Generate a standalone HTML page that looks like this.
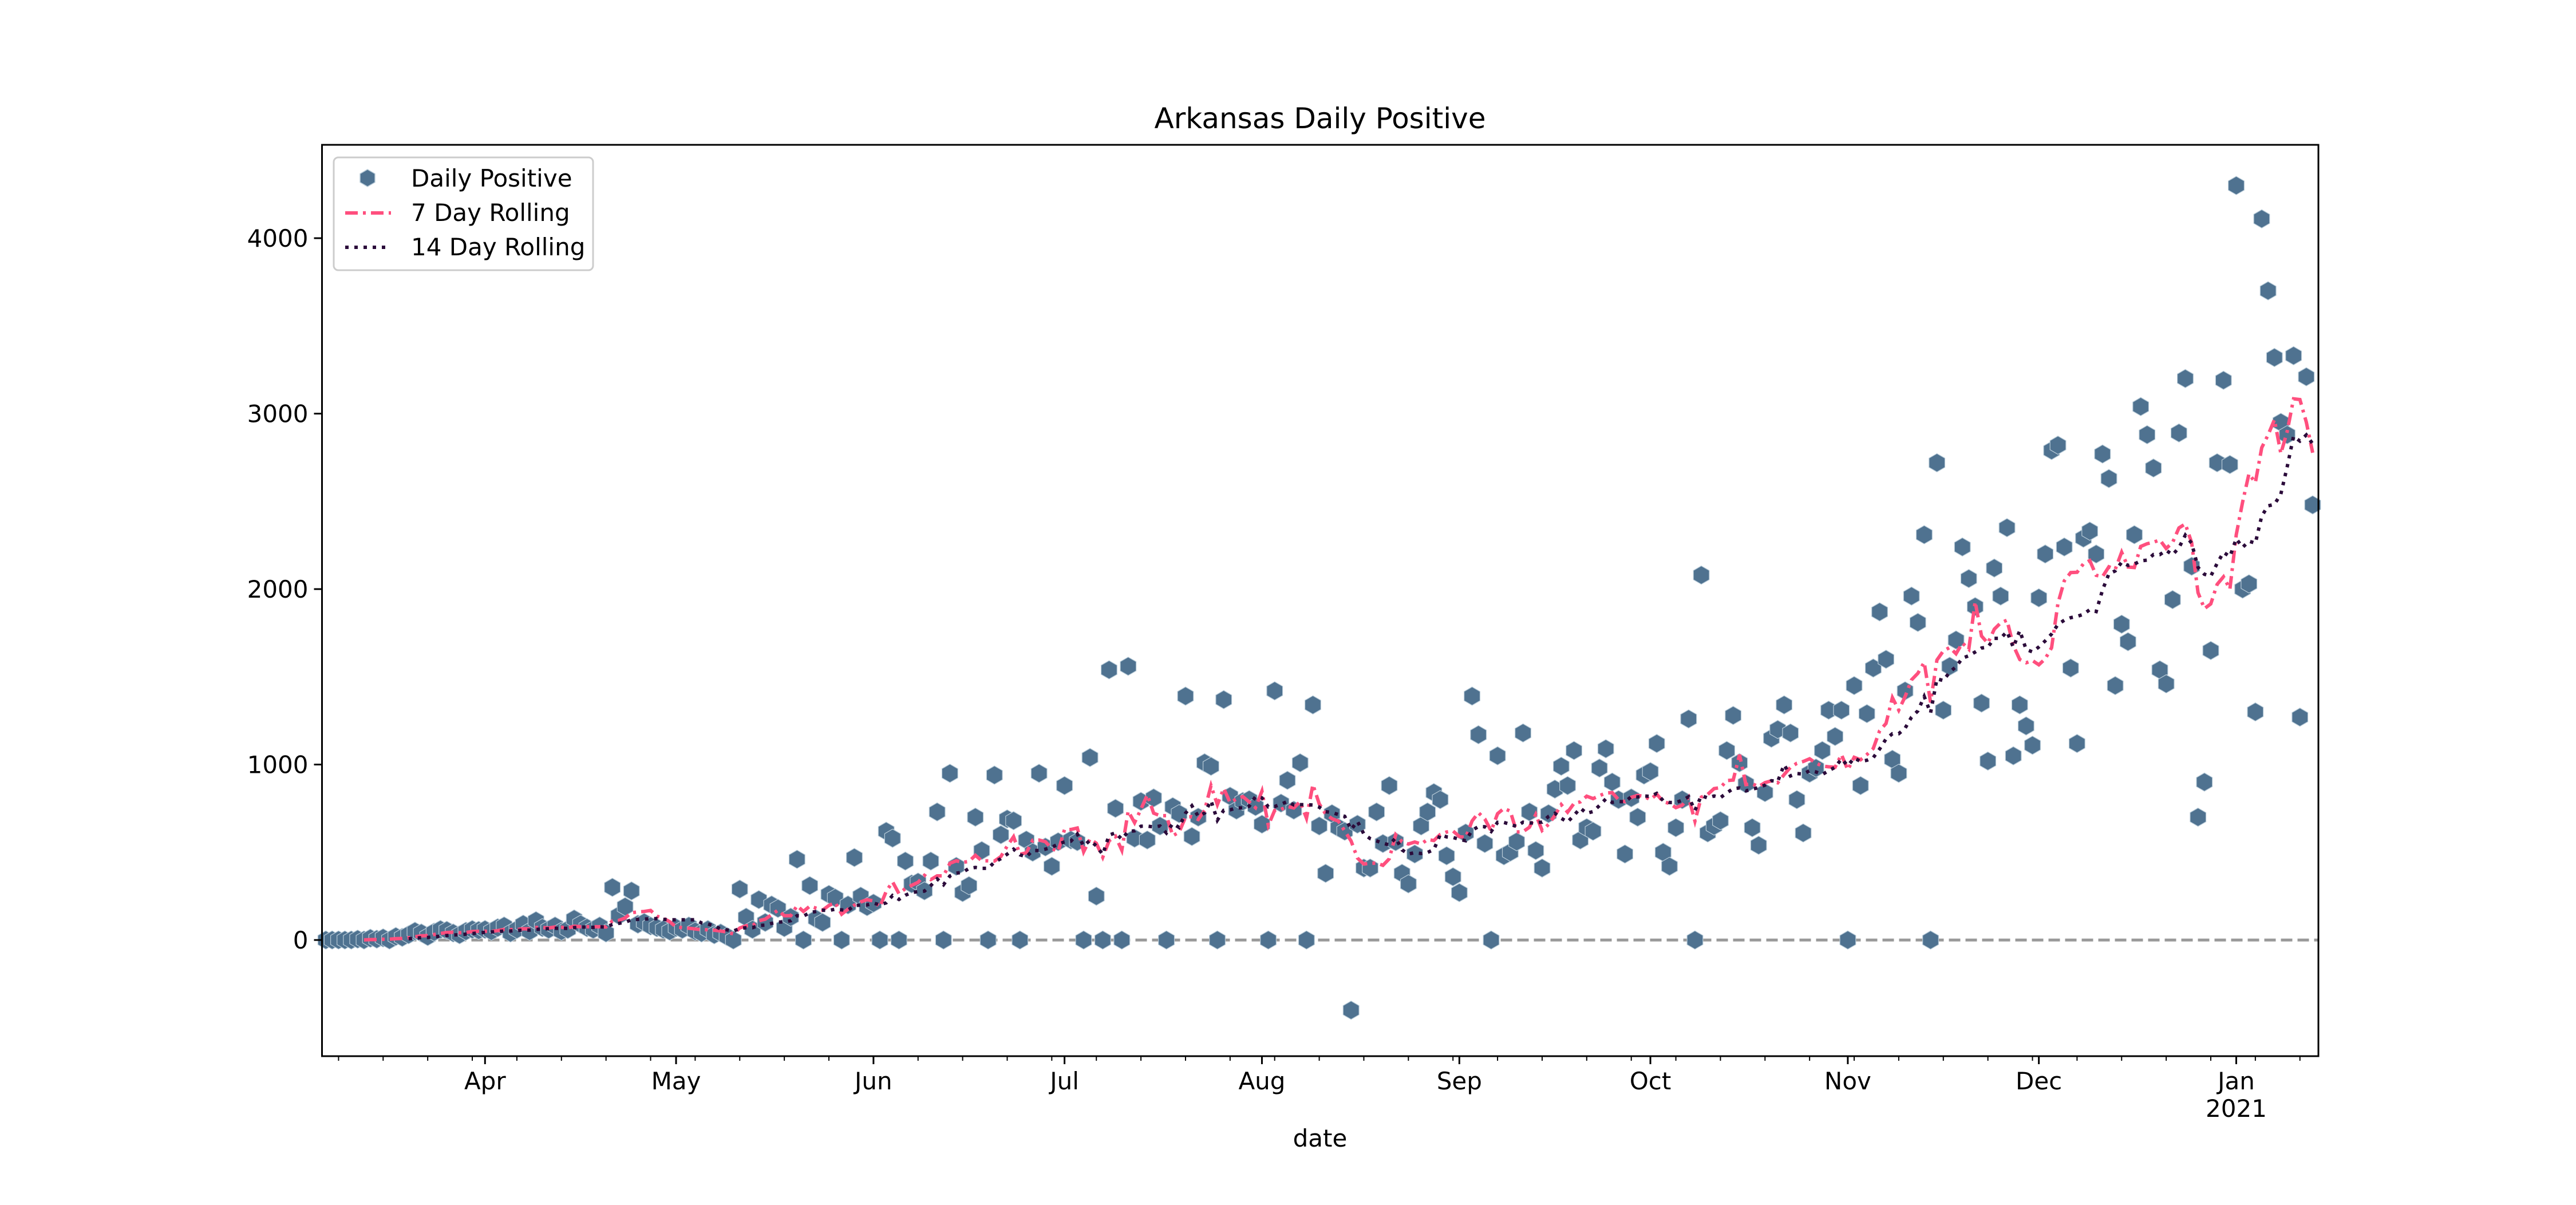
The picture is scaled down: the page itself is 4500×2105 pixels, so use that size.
<!DOCTYPE html>
<html><head><meta charset="utf-8"><style>
body{margin:0;background:#fff}
svg text{font-family:"DejaVu Sans","Liberation Sans",sans-serif}
</style></head><body>
<svg id="chart" width="4500" height="2100" viewBox="0 0 4500 2100" xmlns="http://www.w3.org/2000/svg">
<rect width="4500" height="2100" fill="#fff"/>
<text x="2306" y="224" font-size="50" text-anchor="middle">Arkansas Daily Positive</text>
<g id="marks"></g>
<rect x="562.5" y="253" width="3487.5" height="1592" fill="none" stroke="#000" stroke-width="3"/>
<g id="axes"></g>
<text x="2306" y="2003" font-size="42" text-anchor="middle">date</text>
<g transform="translate(0,6)">
<rect x="583" y="269" width="453" height="197" fill="#fff" fill-opacity="0.8" stroke="#ccc" stroke-width="3" rx="8"/>
<g><polygon points="642,290 655,297.5 655,312.5 642,320 629,312.5 629,297.5" fill="#4f7290" stroke="#b8cbd8" stroke-width="1.5"/><text x="718" y="320" font-size="42">Daily Positive</text></g>
<g><line x1="603" y1="366" x2="683" y2="366" stroke="#ff4f7e" stroke-width="6" stroke-dasharray="22 9 5 9"/><text x="718" y="380" font-size="42">7 Day Rolling</text></g>
<g><line x1="603" y1="426" x2="683" y2="426" stroke="#2b0b3a" stroke-width="6" stroke-dasharray="6 10"/><text x="718" y="440" font-size="42">14 Day Rolling</text></g>
</g>
</svg>
<script>
const startDate = "2020-03-07";
const mar = [0,0,0,0,0,5,0,10,5,12,0,20,15,30,50,40,20,45,60,55,40,30,50,60,55];
const apr = [60,50,70,80,40,60,90,50,110,70,60,80,50,60,120,90,70,60,80,40,300,140,190,280,90,100,80,70,60,50];
const may = [70,60,80,50,40,60,30,40,20,0,290,130,60,230,100,200,180,70,130,460,0,310,120,100,260,240,0,200,470,250,190];
const jun = [210,0,620,580,0,450,320,330,280,450,730,0,950,420,270,310,700,510,0,940,600,690,680,0,570,500,950,530,420,560];
const jul = [880,570,560,0,1040,250,0,1540,750,0,1560,580,790,570,810,650,0,760,720,1390,590,700,1010,990,0,1370,820,740,790,800,760];
const aug = [660,0,1420,780,910,740,1010,0,1340,650,380,720,640,620,-400,660,410,410,730,550,880,560,380,320,490,650,730,840,800,480,360];
const sep = [270,610,1390,1170,550,0,1050,480,500,560,1180,730,510,410,720,860,990,880,1080,570,640,620,980,1090,900,800,490,810,700,940];
const oct = [960,1120,500,420,640,800,1260,0,2080,610,650,680,1080,1280,1010,890,640,540,840,1150,1200,1340,1180,800,610,950,980,1080,1310,1160,1310];
const nov = [0,1450,880,1290,1550,1870,1600,1030,950,1420,1960,1810,2310,0,2720,1310,1560,1710,2240,2060,1900,1350,1020,2120,1960,2350,1050,1340,1220,1110];
const dec = [1950,2200,2790,2820,2240,1550,1120,2290,2330,2200,2770,2630,1450,1800,1700,2310,3040,2880,2690,1540,1460,1940,2890,3200,2130,700,900,1650,2720,3190,2710];
const jan = [4300,2000,2030,1300,4110,3700,3320,2950,2880,3330,1270,3210,2480];
const yTicks = [0,1000,2000,3000,4000];
const monthLabels = ["Apr","May","Jun","Jul","Aug","Sep","Oct","Nov","Dec","Jan"];
const monthDays = [25,55,86,116,147,178,208,239,269,300];

const daily = [].concat(mar,apr,may,jun,jul,aug,sep,oct,nov,dec,jan);
const NS="http://www.w3.org/2000/svg";
const L=562.5,R=4050,T=253,B=1845;
const xmin=-0.6,xmax=312.9,ymin=-662,ymax=4532;
const xs=d=>L+(d-xmin)/(xmax-xmin)*(R-L);
const ys=v=>B-(v-ymin)/(ymax-ymin)*(B-T);
function mk(tag,attrs,parent){const e=document.createElementNS(NS,tag);for(const k in attrs)e.setAttribute(k,attrs[k]);parent.appendChild(e);return e;}
const marks=document.getElementById('marks'), axes=document.getElementById('axes');

const zl=mk('line',{x1:L,x2:R,y1:ys(0),y2:ys(0),stroke:'#999','stroke-width':5,'stroke-dasharray':'20 9'},marks);



const g=mk('g',{},marks);


daily.forEach((v,i)=>{
  const cx=xs(i),cy=ys(v),r=16;
  const p=[];for(let k=0;k<6;k++){const a=Math.PI/3*k-Math.PI/2;p.push((cx+r*Math.cos(a)).toFixed(1)+','+(cy+r*Math.sin(a)).toFixed(1));}
  const h=mk('polygon',{points:p.join(' '),fill:'#4f7290',stroke:'#b8cbd8','stroke-width':1.2},g);
  
  
});
function roll(w){const out=[];for(let i=w-1;i<daily.length;i++){let s=0;for(let j=i-w+1;j<=i;j++)s+=daily[j];out.push([i,s/w]);}return out;}
const r7=roll(7), r14=roll(14);
const p7=mk('path',{d:'M'+r7.map(([i,v])=>xs(i).toFixed(1)+' '+ys(v).toFixed(1)).join(' L'),fill:'none',stroke:'#ff4f7e','stroke-width':6,'stroke-dasharray':'22 9 5 9'},marks);


const p14=mk('path',{d:'M'+r14.map(([i,v])=>xs(i).toFixed(1)+' '+ys(v).toFixed(1)).join(' L'),fill:'none',stroke:'#2b0b3a','stroke-width':6,'stroke-dasharray':'6 10'},marks);



yTicks.forEach(v=>{
  const y=ys(v);
  mk('line',{x1:L-14,x2:L,y1:y,y2:y,stroke:'#000','stroke-width':3},axes);
  const t=mk('text',{x:L-24,y:y+15,'font-size':42,'text-anchor':'end'},axes);
  t.textContent=v;
  
  
});
for(let d=2;d<=312;d+=7){
  if(monthDays.includes(d))continue;
  mk('line',{x1:xs(d),x2:xs(d),y1:B,y2:B+8,stroke:'#000','stroke-width':2},axes);
}
monthLabels.forEach((m,i)=>{
  const x=xs(monthDays[i]);
  mk('line',{x1:x,x2:x,y1:B,y2:B+14,stroke:'#000','stroke-width':3},axes);
  const t=mk('text',{x:x,y:B+58,'font-size':42,'text-anchor':'middle'},axes);
  t.textContent=m;
  
  
});
const yr=mk('text',{x:xs(300),y:B+106,'font-size':42,'text-anchor':'middle'},axes);
yr.textContent='2021';


</script>
</body></html>
